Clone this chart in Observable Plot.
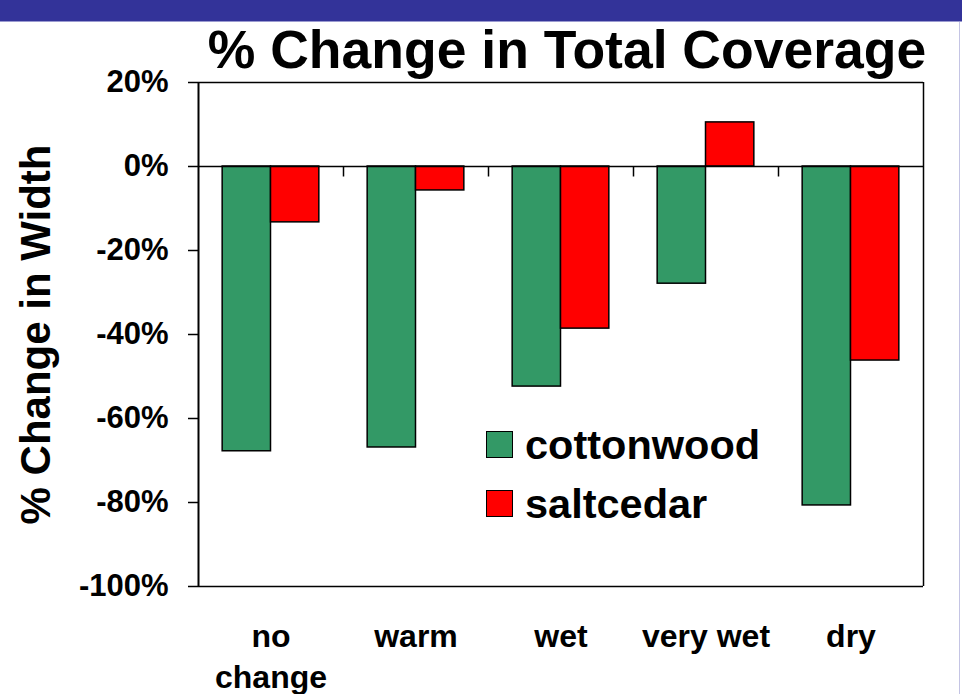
<!DOCTYPE html>
<html>
<head>
<meta charset="utf-8">
<script src="https://cdn.jsdelivr.net/npm/d3@7"></script>
<script src="https://cdn.jsdelivr.net/npm/@observablehq/plot@0.6"></script>
<style>
  html, body { margin: 0; padding: 0; background: #fff; }
  body { width: 962px; height: 694px; position: relative; overflow: hidden;
         font-family: "Liberation Sans", Arial, sans-serif; }
  #band { position: absolute; left: 0; top: 0; width: 962px; height: 21px; background: #333399;
          border-bottom: 1px solid #9a9ad0; }
  #rightline { position: absolute; left: 959px; top: 22px; width: 1px; height: 672px; background: #c4c4e4; }
  #title { position: absolute; left: 0; top: 23px; width: 1134px; text-align: center;
           font-size: 53.5px; line-height: 53px; font-weight: bold; color: #000; white-space: nowrap; }
  #chart { position: absolute; left: 0; top: 60px; }
  #legend { position: absolute; left: 486px; top: 0; }
  .lg-row { position: absolute; left: 0; white-space: nowrap; }
  .lg-sw { position: absolute; left: 0; width: 25px; height: 25px; border: 1.5px solid #000; }
  .lg-tx { position: absolute; left: 39px; font-size: 41.5px; line-height: 40px; font-weight: bold; color: #000; }
</style>
</head>
<body>
<div id="band"></div>
<div id="rightline"></div>
<div id="title">% Change in Total Coverage</div>
<div id="chart"></div>
<div id="legend"></div>
<script>
const categories = ["no\nchange", "warm", "wet", "very wet", "dry"];
const seriesNames = ["cottonwood", "saltcedar"];
const seriesColors = ["#339966", "#ff0000"];
const cottonwood = [-67.8, -66.9, -52.4, -27.9, -80.7];
const saltcedar = [-13.3, -5.7, -38.6, 10.5, -46.2];
const yTicks = [20, 0, -20, -40, -60, -80, -100];
const yLabel = "% Change in Width";

const seriesValues = [cottonwood, saltcedar];
const rows = categories.flatMap((c, i) =>
  seriesNames.map((s, k) => ({cat: c, i, k, series: s, value: seriesValues[k][i]}))
);
const n = categories.length;
const groupFrac = 2 / 3;
const barW = groupFrac / seriesNames.length;
const start = (1 - groupFrac) / 2;

const chart = Plot.plot({
  width: 962,
  height: 634,
  marginLeft: 198,
  marginRight: 39,
  marginTop: 22,
  marginBottom: 108,
  style: {fontFamily: "Liberation Sans, Arial, sans-serif", fontWeight: "bold", color: "#000", background: "transparent"},
  x: {type: "linear", domain: [0, n]},
  y: {domain: [-100, 20]},
  color: {domain: seriesNames, range: seriesColors},
  marks: [
    Plot.rect(rows, {
      x1: d => d.i + start + d.k * barW,
      x2: d => d.i + start + (d.k + 1) * barW,
      y1: 0, y2: "value",
      fill: "series", stroke: "#000", strokeWidth: 1.5
    }),
    Plot.ruleY([0], {stroke: "#000", strokeWidth: 1.5}),
    Plot.ruleY([20], {stroke: "#000", strokeWidth: 1.5}),
    Plot.ruleY([-100], {stroke: "#000", strokeWidth: 1.5}),
    Plot.ruleX([n], {stroke: "#000", strokeWidth: 1.5}),
    Plot.ruleX([0], {stroke: "#000", strokeWidth: 2}),
    Plot.ruleX(d3.range(1, n), {y1: 0, y2: -2.5, stroke: "#000", strokeWidth: 1.5}),
    Plot.axisY(yTicks, {
      tickSize: 10, tickPadding: 20, tickFormat: d => d + "%",
      fontSize: 31, fontWeight: "bold", strokeWidth: 1.5, label: null
    }),
    Plot.axisY([], {
      tickSize: 0, label: yLabel, labelAnchor: "center", labelArrow: "none",
      labelOffset: 178, fontSize: 42, fontWeight: "bold"
    }),
    Plot.axisX(categories.map((c, i) => i + 0.5), {
      tickSize: 0, tickPadding: 32, tickFormat: d => categories[Math.floor(d)],
      fontSize: 32, fontWeight: "bold", lineHeight: 1.27, label: null
    })
  ]
});
document.getElementById("chart").appendChild(chart);

const legend = document.getElementById("legend");
seriesNames.forEach((s, k) => {
  const row = document.createElement("div");
  row.className = "lg-row";
  row.style.top = (431 + k * 59) + "px";
  const sw = document.createElement("div");
  sw.className = "lg-sw";
  sw.style.background = seriesColors[k];
  const tx = document.createElement("div");
  tx.className = "lg-tx";
  tx.style.top = "-6px";
  tx.textContent = s;
  row.appendChild(sw);
  row.appendChild(tx);
  legend.appendChild(row);
});
</script>
</body>
</html>
